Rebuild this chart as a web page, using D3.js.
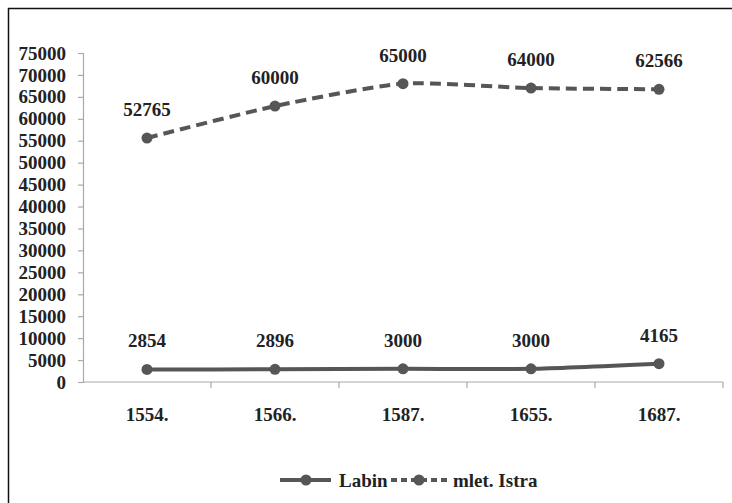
<!DOCTYPE html>
<html>
<head>
<meta charset="utf-8">
<script src="https://cdn.jsdelivr.net/npm/d3@7"></script>
<style>
  body { margin: 0; background: #fff; }
  svg { font-family: 'Liberation Serif', 'Times New Roman', serif; font-weight: bold; }
</style>
</head>
<body>
<div id="chart"></div>
<script>
// categories and values (stacked line chart: Istra is drawn on top of Labin)
var years = ['1554.', '1566.', '1587.', '1655.', '1687.'];
var labin = [2854, 2896, 3000, 3000, 4165];
var istra = [52765, 60000, 65000, 64000, 62566];
var yTicks = [0, 5000, 10000, 15000, 20000, 25000, 30000, 35000, 40000, 45000, 50000, 55000, 60000, 65000, 70000, 75000];
var seriesNames = ['Labin', 'mlet. Istra'];

var width = 732, height = 503;
var margin = { top: 53, right: 8, bottom: 121, left: 83 };

function draw() {
	var svg = d3.select('#chart').append('svg')
		.attr('width', width)
		.attr('height', height);

	// outer frame (top and left edges only visible)
	svg.append('path')
		.attr('d', 'M8.5,' + height + 'V8.5H' + width)
		.attr('fill', 'none')
		.attr('stroke', '#111')
		.attr('stroke-width', 1.5);

	var x = d3.scaleBand()
		.domain(years)
		.range([margin.left, width - margin.right - 1]);

	var y = d3.scaleLinear()
		.domain([0, 75000])
		.range([height - margin.bottom, margin.top]);

	// y axis
	var yAxis = svg.append('g')
		.attr('transform', 'translate(' + margin.left + ',0)')
		.call(d3.axisLeft(y).tickValues(yTicks).tickSize(5).tickPadding(12).tickFormat(d3.format('d')));
	yAxis.selectAll('line, path').attr('stroke', '#aaa').attr('stroke-width', 1.2);
	yAxis.selectAll('text').attr('fill', '#222').style('font-size', '19px').style('font-weight', 'bold').style('font-family', 'Liberation Serif');

	// x axis with ticks at band boundaries
	var xAxisG = svg.append('g')
		.attr('transform', 'translate(0,' + y(0) + ')');
	xAxisG.append('path')
		.attr('d', 'M' + margin.left + ',0H' + x.range()[1])
		.attr('stroke', '#aaa').attr('stroke-width', 1.2);
	var bounds = years.map(function (d) { return x(d); }).concat([x.range()[1]]);
	xAxisG.selectAll('line.tick').data(bounds.slice(1)).enter().append('line')
		.attr('x1', function (d) { return d; }).attr('x2', function (d) { return d; })
		.attr('y1', 0).attr('y2', 6)
		.attr('stroke', '#aaa').attr('stroke-width', 1.2);
	xAxisG.selectAll('text').data(years).enter().append('text')
		.attr('x', function (d) { return x(d) + x.bandwidth() / 2; })
		.attr('y', 39)
		.attr('text-anchor', 'middle')
		.attr('fill', '#222')
		.style('font-size', '19px')
		.text(function (d) { return d; });

	var cx = function (i) { return x(years[i]) + x.bandwidth() / 2; };

	var labinPts = labin.map(function (v, i) { return { i: i, v: v, top: v }; });
	var istraPts = istra.map(function (v, i) { return { i: i, v: v, top: v + labin[i] }; });

	var line = d3.line()
		.x(function (d) { return cx(d.i); })
		.y(function (d) { return y(d.top); })
		.curve(d3.curveCardinal.tension(0.35));

	var color = '#565656';

	var series = [
		{ pts: labinPts, dash: null },
		{ pts: istraPts, dash: '11,6' }
	];

	series.forEach(function (s) {
		svg.append('path')
			.datum(s.pts)
			.attr('d', line)
			.attr('fill', 'none')
			.attr('stroke', color)
			.attr('stroke-width', 4)
			.attr('stroke-dasharray', s.dash);

		svg.selectAll(null).data(s.pts).enter().append('circle')
			.attr('cx', function (d) { return cx(d.i); })
			.attr('cy', function (d) { return y(d.top); })
			.attr('r', 5.5)
			.attr('fill', color);

		svg.selectAll(null).data(s.pts).enter().append('text')
			.attr('x', function (d) { return cx(d.i); })
			.attr('y', function (d) { return y(d.top) - 22; })
			.attr('text-anchor', 'middle')
			.attr('fill', '#222')
			.style('font-size', '19px')
			.text(function (d) { return d.v; });
	});

	// legend
	var lg = svg.append('g').attr('transform', 'translate(0,480)');
	lg.append('line').attr('x1', 280).attr('x2', 331).attr('y1', 0).attr('y2', 0)
		.attr('stroke', color).attr('stroke-width', 4);
	lg.append('circle').attr('cx', 306).attr('cy', 0).attr('r', 5.5).attr('fill', color);
	lg.append('text').attr('x', 339).attr('y', 7).attr('fill', '#222').style('font-size', '19px').text(seriesNames[0]);

	lg.append('line').attr('x1', 391).attr('x2', 448).attr('y1', 0).attr('y2', 0)
		.attr('stroke', color).attr('stroke-width', 4).attr('stroke-dasharray', '6,4');
	lg.append('circle').attr('cx', 419).attr('cy', 0).attr('r', 5.5).attr('fill', color);
	lg.append('text').attr('x', 453).attr('y', 7).attr('fill', '#222').style('font-size', '19px').text(seriesNames[1]);
}

window.onload = draw;
</script>
</body>
</html>
